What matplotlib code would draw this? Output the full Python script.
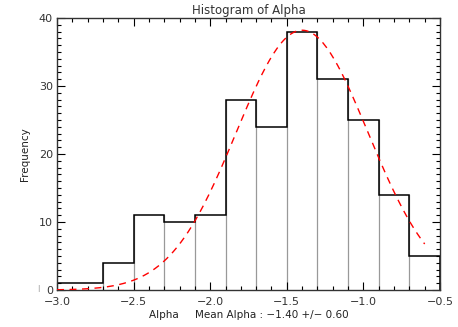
import numpy as np
import matplotlib
matplotlib.use("Agg")
import matplotlib.pyplot as plt
from matplotlib.ticker import MultipleLocator

# histogram of alpha (bin edges and counts)
bin_edges = [-3.0, -2.7, -2.5, -2.3, -2.1, -1.9, -1.7, -1.5, -1.3, -1.1, -0.9, -0.7, -0.5]
counts = [1, 4, 11, 10, 11, 28, 24, 38, 31, 25, 14, 5]

# gaussian fit drawn over it
fit_peak = 38.2
fit_mean = -1.40
fit_sigma = 0.43
fit_range = (-3.0, -0.6)

fig = plt.figure(figsize=(4.58, 3.27), dpi=100)
ax = fig.add_axes([0.1245, 0.1131, 0.8362, 0.8319])

# gray bin edges, black step outline
for i in range(1, len(bin_edges) - 1):
    ax.plot([bin_edges[i], bin_edges[i]], [0, max(counts[i - 1], counts[i])],
            color='#999999', lw=0.9, zorder=1)
ax.stairs(counts, bin_edges, color='black', lw=1.1, zorder=2)

xs = np.linspace(fit_range[0], fit_range[1], 200)
ax.plot(xs, fit_peak * np.exp(-(xs - fit_mean) ** 2 / (2 * fit_sigma ** 2)),
        color='red', lw=1.0, ls=(0, (5, 4)), zorder=3)

ax.set_xlim(-3.0, -0.5)
ax.set_ylim(0, 40)
ax.xaxis.set_major_locator(MultipleLocator(0.5))
ax.xaxis.set_minor_locator(MultipleLocator(0.1))
ax.yaxis.set_major_locator(MultipleLocator(10))
ax.yaxis.set_minor_locator(MultipleLocator(1))
ax.tick_params(which='both', direction='in', top=True, right=True,
               labelsize=8, width=0.8, colors='black')
ax.tick_params(axis='x', pad=5)
ax.tick_params(axis='y', pad=3)
ax.tick_params(which='major', length=6)
ax.tick_params(which='minor', length=3)
ax.set_xticks([-3.0, -2.5, -2.0, -1.5, -1.0, -0.5])
ax.set_xticklabels(['\u22123.0', '\u22122.5', '\u22122.0', '\u22121.5', '\u22121.0', '\u22120.5'])
for lab in ax.get_xticklabels() + ax.get_yticklabels():
    lab.set_color('#333333')
for sp in ax.spines.values():
    sp.set_linewidth(1.0)
    sp.set_color('#333333')

ax.set_title('Histogram of Alpha', fontsize=8.5, color='#333333', pad=3)
ax.set_xlabel('Alpha     Mean Alpha : \u22121.40 +/\u2212 0.60', fontsize=7.5, labelpad=2,
              color='#222222')
ax.set_ylabel('Frequency', fontsize=7.5, labelpad=6, color='#222222')

fig.text(38 / 458, 1 - 288 / 327, '|', fontsize=5, color='#888888', ha='center', va='center')

fig.savefig('out.png', dpi=100)
